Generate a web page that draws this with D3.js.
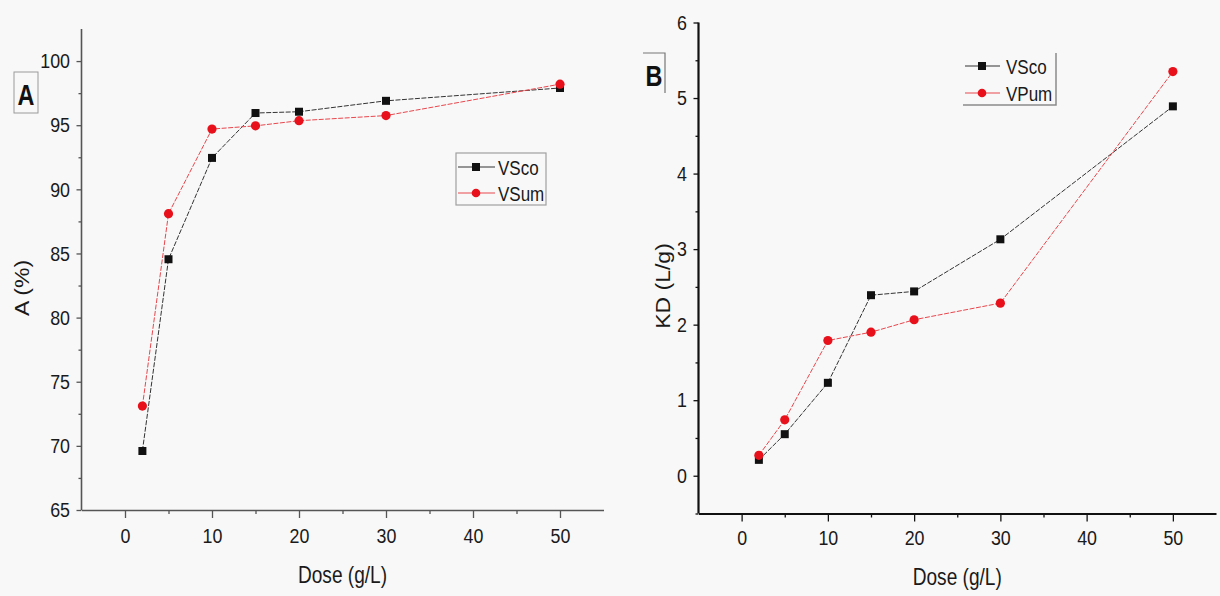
<!DOCTYPE html>
<html><head><meta charset="utf-8">
<script src="https://cdn.jsdelivr.net/npm/d3@7"></script>
<style>
html,body{margin:0;padding:0;background:#f8f8f8;}
svg{display:block;font-family:"Liberation Sans",Arial,sans-serif;}
</style></head>
<body>
<svg id="c" width="1220" height="596"></svg>
<script>
// ---------- data ----------
const doses = [2, 5, 10, 15, 20, 30, 50];
const A_VSco = [69.6, 84.55, 92.45, 95.95, 96.05, 96.9, 97.9];
const A_VSum = [73.1, 88.1, 94.7, 94.95, 95.35, 95.75, 98.2];
const B_VSco = [0.21, 0.55, 1.23, 2.39, 2.44, 3.13, 4.89];
const B_VPum = [0.27, 0.74, 1.79, 1.90, 2.065, 2.285, 5.35];
const xTicks = [0, 10, 20, 30, 40, 50];
const xMinor = [5, 15, 25, 35, 45];
const yTicksA = [65, 70, 75, 80, 85, 90, 95, 100];
const yMinorA = [67.5, 72.5, 77.5, 82.5, 87.5, 92.5, 97.5];
const yTicksB = [0, 1, 2, 3, 4, 5, 6];
const yMinorB = [-0.5, 0.5, 1.5, 2.5, 3.5, 4.5, 5.5];
const legendA = ["VSco", "VSum"];
const legendB = ["VSco", "VPum"];

const svg = d3.select("#c");
const SX = 0.85;
const blackC = "#111", redC = "#e8101a";
const fmt = d3.format("~g");

function panel(opt) {
  const g = svg.append("g");
  const x = d3.scaleLinear().domain([-5, 55]).range(opt.xr);
  const y = d3.scaleLinear().domain(opt.yd).range(opt.yr);
  const y0 = opt.yr[0], x0 = opt.xr[0];

  // minor ticks
  g.append("g").attr("transform", `translate(0,${y0})`)
    .call(d3.axisBottom(x).tickValues(xMinor).tickSize(4).tickFormat("").tickSizeOuter(0))
    .call(s => s.select(".domain").remove())
    .call(s => s.selectAll("line").attr("stroke", opt.axisC).attr("stroke-width", 1.3));
  g.append("g").attr("transform", `translate(${x0},0)`)
    .call(d3.axisLeft(y).tickValues(opt.yMinor).tickSize(3).tickFormat("").tickSizeOuter(0))
    .call(s => s.select(".domain").remove())
    .call(s => s.selectAll("line").attr("stroke", opt.axisC).attr("stroke-width", 1.3));

  // major x axis
  g.append("g").attr("transform", `translate(0,${y0})`)
    .call(d3.axisBottom(x).tickValues(xTicks).tickFormat(fmt).tickSize(8).tickPadding(opt.xPad).tickSizeOuter(0))
    .call(s => s.select(".domain").attr("stroke", opt.axisC).attr("stroke-width", opt.axisW))
    .call(s => s.selectAll("line").attr("stroke", opt.axisC).attr("stroke-width", 1.3))
    .call(s => s.selectAll("text").attr("font-size", 21).attr("fill", "#1a1a1a")
      .attr("font-family", "Liberation Sans, Arial, sans-serif")
      .attr("transform", `scale(${SX},1)`));
  // major y axis
  const yax = g.append("g").attr("transform", `translate(${x0},0)`)
    .call(d3.axisLeft(y).tickValues(opt.yTicks).tickFormat(fmt).tickSize(5).tickPadding(6.5).tickSizeOuter(0))
    .call(s => s.select(".domain").attr("stroke", opt.axisC).attr("stroke-width", opt.axisW))
    .call(s => s.selectAll("line").attr("stroke", opt.axisC).attr("stroke-width", 1.3));
  yax.selectAll("text").attr("font-size", 21).attr("fill", "#1a1a1a")
    .attr("font-family", "Liberation Sans, Arial, sans-serif")
    .attr("x", -11.5 / SX).attr("transform", `scale(${SX},1)`);
  yax.select(".domain").attr("d", `M0,${opt.yr[0]}V${opt.yr[1]}`);

  // lines
  const line = d3.line().x(d => x(d[0])).y(d => y(d[1]));
  const s1 = doses.map((d, i) => [d, opt.s1[i]]);
  const s2 = doses.map((d, i) => [d, opt.s2[i]]);
  g.append("path").attr("d", line(s1)).attr("fill", "none")
    .attr("stroke", "#333").attr("stroke-width", 1).attr("stroke-dasharray", "5,1.5");
  g.append("path").attr("d", line(s2)).attr("fill", "none")
    .attr("stroke", "#e8464c").attr("stroke-width", 1).attr("stroke-dasharray", "5,1.5");
  g.selectAll(".sq").data(s1).join("rect")
    .attr("x", d => x(d[0]) - 4).attr("y", d => y(d[1]) - 4)
    .attr("width", 8).attr("height", 8).attr("fill", blackC);
  g.selectAll(".ci").data(s2).join("circle")
    .attr("cx", d => x(d[0])).attr("cy", d => y(d[1])).attr("r", 4.6).attr("fill", redC);

  // axis titles
  const xm = (opt.xr[0] + opt.xr[1]) / 2;
  g.append("text").attr("transform", `translate(${xm},${opt.xTitleY}) scale(0.83,1)`)
    .attr("text-anchor", "middle").attr("font-size", 23).attr("fill", "#1a1a1a").text("Dose (g/L)");
  g.append("text").attr("transform", `translate(${opt.yTitleX},${opt.yTitleY}) rotate(-90) scale(1,0.85)`)
    .attr("text-anchor", "middle").attr("font-size", 23).attr("fill", "#1a1a1a").text(opt.yTitle);

  return { g, x, y };
}

const pA = panel({
  xr: [81.5, 603.5], yr: [510, 29], yd: [65, 102.5],
  yTicks: yTicksA, yMinor: yMinorA, axisC: "#555", axisW: 1.6, xPad: 10,
  s1: A_VSco, s2: A_VSum, xTitleY: 583, yTitle: "A (%)", yTitleX: 29, yTitleY: 288
});
const pB = panel({
  xr: [698.5, 1216], yr: [513.5, 22.5], yd: [-0.5, 6],
  yTicks: yTicksB, yMinor: yMinorB, axisC: "#111", axisW: 2.2, xPad: 9,
  s1: B_VSco, s2: B_VPum, xTitleY: 585, yTitle: "KD (L/g)", yTitleX: 670, yTitleY: 286
});

// panel letters
svg.append("rect").attr("x", 14).attr("y", 72).attr("width", 24).attr("height", 41)
  .attr("fill", "none").attr("stroke", "#9a9a9a").attr("stroke-width", 1);
svg.append("text").attr("transform", "translate(26,105) scale(0.78,1)").attr("text-anchor", "middle")
  .attr("font-size", 30).attr("font-weight", "bold").attr("fill", "#111").text("A");
svg.append("path").attr("d", "M643,53H665V93").attr("fill", "none").attr("stroke", "#777").attr("stroke-width", 1.2);
svg.append("text").attr("transform", "translate(654,86) scale(0.78,1)").attr("text-anchor", "middle")
  .attr("font-size", 30).attr("font-weight", "bold").attr("fill", "#111").text("B");

// legends
function legend(names, box, rows, lx, mx, tx, full) {
  const g = svg.append("g");
  if (full) {
    g.append("rect").attr("x", box[0]).attr("y", box[1]).attr("width", box[2] - box[0]).attr("height", box[3] - box[1])
      .attr("fill", "none").attr("stroke", "#a0a0a0").attr("stroke-width", 1.2);
  } else {
    g.append("path").attr("d", `M${box[2]},${box[1]}V${box[3]}H${box[0]}`)
      .attr("fill", "none").attr("stroke", "#8a8a8a").attr("stroke-width", 1.5);
  }
  names.forEach((n, i) => {
    const yy = rows[i];
    g.append("line").attr("x1", lx[0]).attr("x2", lx[1]).attr("y1", yy).attr("y2", yy)
      .attr("stroke", i === 0 ? "#333" : "#e8464c").attr("stroke-width", 1);
    if (i === 0) g.append("rect").attr("x", mx - 4).attr("y", yy - 4).attr("width", 8).attr("height", 8).attr("fill", blackC);
    else g.append("circle").attr("cx", mx).attr("cy", yy).attr("r", 4.3).attr("fill", redC);
    g.append("text").attr("transform", `translate(${tx},${yy + 7.5}) scale(${SX},1)`)
      .attr("font-size", 20).attr("fill", "#1a1a1a").text(n);
  });
}
legend(legendA, [456, 153, 546, 205], [167, 193], [458, 495], 476, 498, true);
legend(legendB, [963, 53, 1056, 105], [66, 93], [965, 1000], 982, 1006, false);
</script>
</body></html>
